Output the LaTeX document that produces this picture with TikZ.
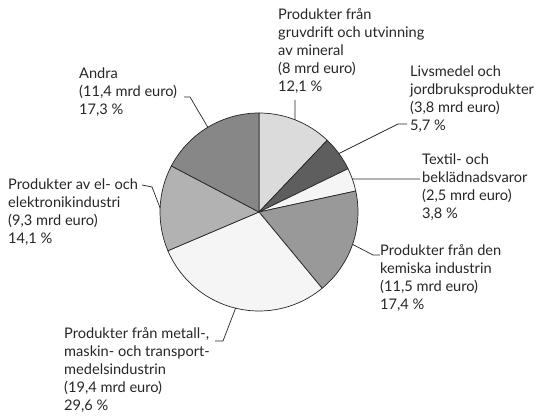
\documentclass[tikz,border=0pt]{standalone}
\usepackage{fontspec}
\setmainfont{Lato}
\usetikzlibrary{calc}
\begin{document}
\begin{tikzpicture}[x=1pt,y=1pt,
  slice/.style={draw=black!85,line width=0.7pt,line join=round},
  lbl/.style={anchor=base west,inner sep=0pt,align=left,font=\fontsize{14.6}{18}\selectfont,text=black!85},
  leader/.style={draw=black!85,line width=0.7pt}]
\useasboundingbox (0,0) rectangle (540,415);
\def\R{99}
\coordinate (c) at (259,203);
% slices (clockwise from top)
\fill[fill=black!14,slice] (c) -- ++(90:\R) arc[start angle=90,end angle=46.44,radius=\R] -- cycle;
\fill[fill=black!63,slice] (c) -- ++(46.44:\R) arc[start angle=46.44,end angle=25.92,radius=\R] -- cycle;
\fill[fill=black!4,slice] (c) -- ++(25.92:\R) arc[start angle=25.92,end angle=12.24,radius=\R] -- cycle;
\fill[fill=black!40,slice] (c) -- ++(12.24:\R) arc[start angle=12.24,end angle=-50.4,radius=\R] -- cycle;
\fill[fill=black!4,slice] (c) -- ++(-50.4:\R) arc[start angle=-50.4,end angle=-156.96,radius=\R] -- cycle;
\fill[fill=black!30,slice] (c) -- ++(-156.96:\R) arc[start angle=-156.96,end angle=-207.72,radius=\R] -- cycle;
\fill[fill=black!47,slice] (c) -- ++(152.28:\R) arc[start angle=152.28,end angle=90,radius=\R] -- cycle;
% labels (anchor = baseline of last line)
\node[lbl] (gruv) at (278,323.3) {Produkter från\\gruvdrift och utvinning\\av mineral\\(8 mrd euro)\\12,1 \%};
\node[lbl] (livs) at (410,284.3) {Livsmedel och\\jordbruksprodukter\\(3,8 mrd euro)\\5,7 \%};
\node[lbl] (text) at (422,196.7) {Textil- och\\beklädnadsvaror\\(2,5 mrd euro)\\3,8 \%};
\node[lbl] (kem) at (380,105.7) {Produkter från den\\kemiska industrin\\(11,5 mrd euro)\\17,4 \%};
\node[lbl] (met) at (64,5) {Produkter från metall-,\\maskin- och transport-\\medelsindustrin\\(19,4 mrd euro)\\29,6 \%};
\node[lbl] (el) at (8,171.7) {Produkter av el- och\\elektronikindustri\\(9,3 mrd euro)\\14,1 \%};
\node[lbl] (andra) at (79,300) {Andra\\(11,4 mrd euro)\\17,3 \%};
% leader lines
\coordinate (pg) at ($(c)+(68.7:\R)$);
\coordinate (pl) at ($(c)+(36.18:\R)$);
\coordinate (pt) at ($(c)+(19.5:\R)$);
\coordinate (pk) at ($(c)+(-19.08:\R)$);
\coordinate (pm) at ($(c)+(-103.68:\R)$);
\coordinate (pe) at ($(c)+(177.66:\R)$);
\coordinate (pa) at ($(c)+(121.14:\R)$);
\coordinate (eg) at (295,315);
\coordinate (el1) at (398,291);
\coordinate (el2) at (407,291);
\coordinate (et) at (420,236);
\coordinate (ek1) at (373,160);
\coordinate (ek2) at (380,160);
\coordinate (em1) at (223,74);
\coordinate (em2) at (215,74);
\coordinate (ee1) at (152,228);
\coordinate (ee2) at (142,230);
\coordinate (ea1) at (190,318);
\coordinate (ea2) at (184,318);
\draw[leader] (pg) -- (eg);
\draw[leader] (pl) -- (el1) -- (el2);
\draw[leader] (pt) -- (et);
\draw[leader] (pk) -- (ek1) -- (ek2);
\draw[leader] (pm) -- (em1) -- (em2);
\draw[leader] (pe) -- (ee1) -- (ee2);
\draw[leader] (pa) -- (ea1) -- (ea2);
\end{tikzpicture}
\end{document}
